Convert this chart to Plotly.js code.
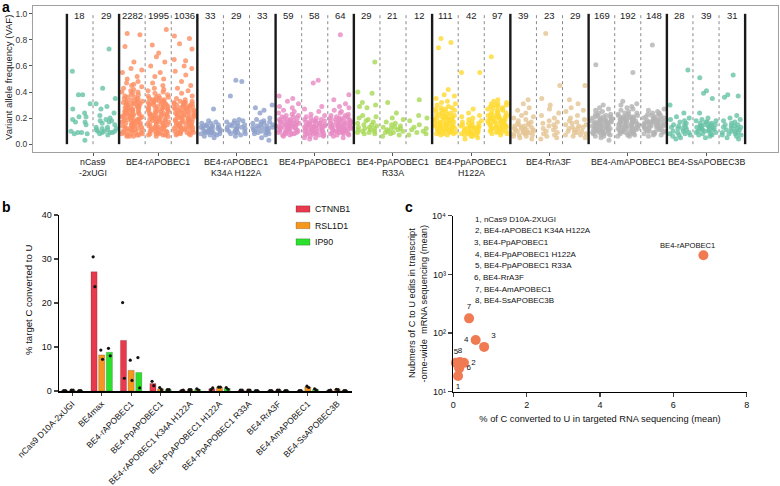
<!DOCTYPE html>
<html><head><meta charset="utf-8">
<script src="https://cdn.plot.ly/plotly-3.0.1.min.js"></script>
<style>html,body{margin:0;padding:0;background:#fff}#chart{width:780px;height:486px}</style>
</head><body><div id="chart"></div>
<script>
// ---------- Panel a data ----------
const groupLabels = ['nCas9<br>-2xUGI','BE4-rAPOBEC1','BE4-rAPOBEC1<br>K34A H122A','BE4-PpAPOBEC1','BE4-PpAPOBEC1<br>R33A','BE4-PpAPOBEC1<br>H122A','BE4-RrA3F','BE4-AmAPOBEC1','BE4-SsAPOBEC3B'];
const groupSizes = [2,3,3,3,3,3,3,3,3];
const groupColors = ['#66c2a5','#fc8d62','#8da0cb','#e78ac3','#a6d854','#ffd92f','#e5c494','#b3b3b3','#66c2a5'];
const siteCounts = [18,29,2282,1995,1036,33,29,33,59,58,64,29,21,12,111,42,97,39,23,29,169,192,148,28,39,31];

const vafNCas9r1 = [0.56,0.38,0.38,0.31,0.27,0.24,0.21,0.21,0.19,0.17,0.17,0.15,0.1,0.09,0.09,0.08,0.08,0.03];
const vafNCas9r2 = [0.73,0.43,0.35,0.31,0.29,0.27,0.24,0.22,0.2,0.19,0.18,0.18,0.17,0.16,0.15,0.13,0.13,0.12,0.12,0.11,0.11,0.1,0.1,0.1,0.09,0.09,0.09,0.08,0.07];
const vafRap1r1 = [0.85,0.84,0.75,0.63,0.58,0.57,0.55,0.52,0.5,0.48,0.47,0.46,0.45,0.44,0.43,0.42,0.41,0.4,0.4,0.39,0.38,0.38,0.37,0.36,0.36,0.35,0.35,0.34,0.34,
 0.33,0.33,0.33,0.32,0.32,0.32,0.31,0.31,0.31,0.3,0.3,0.3,0.29,0.29,0.29,0.28,0.28,0.28,0.27,0.27,0.27,0.26,0.26,0.26,0.25,0.25,0.25,0.24,0.24,0.24,0.23,0.23,0.23,0.22,0.22,0.22,0.21,0.21,0.21,0.2,0.2,0.2,0.19,0.19,0.19,0.18,0.18,0.18,0.17,0.17,0.17,0.16,0.16,0.16,0.15,0.15,0.15,0.14,0.14,0.14,0.13,0.13,0.13,0.12,0.12,0.12,0.11,0.11,0.11,0.1,0.1,0.1,0.09,0.09,0.09,0.08,0.08,0.08,0.07,0.07,0.07,0.06,0.06,0.06];
const vafRap1r2 = [0.88,0.76,0.7,0.67,0.63,0.6,0.55,0.52,0.5,0.47,0.45,0.43,0.42,0.41,0.4,0.39,0.38,0.37,0.37,0.36,0.36,
 0.35,0.35,0.34,0.34,0.34,0.33,0.33,0.33,0.32,0.32,0.32,0.31,0.31,0.31,0.3,0.3,0.3,0.29,0.29,0.29,0.28,0.28,0.28,0.27,0.27,0.27,0.26,0.26,0.26,0.25,0.25,0.25,0.24,0.24,0.24,0.23,0.23,0.23,0.22,0.22,0.22,0.21,0.21,0.21,0.2,0.2,0.2,0.19,0.19,0.19,0.18,0.18,0.18,0.17,0.17,0.17,0.16,0.16,0.16,0.15,0.15,0.15,0.14,0.14,0.14,0.13,0.13,0.13,0.12,0.12,0.12,0.11,0.11,0.11,0.1,0.1,0.1,0.09,0.09,0.09,0.08,0.08,0.08,0.07,0.07,0.07,0.06,0.06];
const vafRap1r3 = [0.83,0.81,0.77,0.73,0.65,0.64,0.6,0.58,0.56,0.53,0.48,0.45,0.43,0.41,0.39,0.37,0.35,0.34,
 0.33,0.33,0.32,0.32,0.32,0.31,0.31,0.31,0.3,0.3,0.3,0.29,0.29,0.29,0.28,0.28,0.28,0.27,0.27,0.27,0.26,0.26,0.26,0.25,0.25,0.25,0.24,0.24,0.24,0.23,0.23,0.23,0.22,0.22,0.22,0.21,0.21,0.21,0.2,0.2,0.2,0.19,0.19,0.19,0.18,0.18,0.18,0.17,0.17,0.17,0.16,0.16,0.16,0.15,0.15,0.15,0.14,0.14,0.14,0.13,0.13,0.13,0.12,0.12,0.12,0.11,0.11,0.11,0.1,0.1,0.1,0.09,0.09,0.09,0.08,0.08,0.08,0.07,0.07];
const vafK34Ar1 = [0.27,0.18,0.17,0.16,0.16,0.15,0.15,0.14,0.14,0.14,0.13,0.13,0.13,0.12,0.12,0.12,0.11,0.11,0.11,0.1,0.1,0.1,0.1,0.09,0.09,0.09,0.08,0.08,0.08,0.07,0.07,0.06,0.05];
const vafK34Ar2 = [0.49,0.48,0.37,0.19,0.18,0.18,0.17,0.16,0.16,0.15,0.15,0.14,0.14,0.13,0.13,0.12,0.12,0.12,0.11,0.11,0.1,0.1,0.1,0.09,0.09,0.08,0.08,0.07,0.06];
const vafK34Ar3 = [0.3,0.28,0.26,0.24,0.2,0.19,0.18,0.17,0.17,0.16,0.16,0.15,0.15,0.14,0.14,0.13,0.13,0.13,0.12,0.12,0.12,0.11,0.11,0.1,0.1,0.1,0.09,0.09,0.08,0.08,0.07,0.05,0.03];
const vafPpr1 = [0.37,0.35,0.33,0.31,0.29,0.28,0.26,0.25,0.24,0.23,0.22,0.22,0.21,0.21,0.2,0.2,0.19,0.19,0.19,0.18,0.18,0.18,0.17,0.17,0.17,0.16,0.16,0.16,0.15,0.15,0.15,0.15,0.14,0.14,0.14,0.14,0.13,0.13,0.13,0.12,0.12,0.12,0.12,0.11,0.11,0.11,0.1,0.1,0.1,0.1,0.09,0.09,0.09,0.08,0.08,0.08,0.07,0.07,0.06];
const vafPpr2 = [0.49,0.47,0.29,0.27,0.25,0.23,0.22,0.21,0.2,0.2,0.19,0.19,0.18,0.18,0.18,0.17,0.17,0.17,0.16,0.16,0.16,0.15,0.15,0.15,0.15,0.14,0.14,0.14,0.14,0.13,0.13,0.13,0.13,0.12,0.12,0.12,0.12,0.11,0.11,0.11,0.1,0.1,0.1,0.1,0.09,0.09,0.09,0.08,0.08,0.08,0.07,0.07,0.07,0.06,0.06,0.05,0.05,0.04];
const vafPpr3 = [0.84,0.38,0.34,0.31,0.29,0.28,0.26,0.25,0.24,0.23,0.22,0.22,0.21,0.21,0.2,0.2,0.2,0.19,0.19,0.19,0.18,0.18,0.18,0.17,0.17,0.17,0.16,0.16,0.16,0.16,0.15,0.15,0.15,0.15,0.14,0.14,0.14,0.14,0.13,0.13,0.13,0.13,0.12,0.12,0.12,0.12,0.11,0.11,0.11,0.11,0.1,0.1,0.1,0.1,0.09,0.09,0.09,0.08,0.08,0.08,0.07,0.07,0.06,0.05];
const vafR33Ar1 = [0.63,0.4,0.39,0.32,0.3,0.29,0.28,0.22,0.21,0.2,0.19,0.18,0.17,0.16,0.15,0.15,0.14,0.13,0.13,0.12,0.12,0.11,0.11,0.1,0.1,0.09,0.09,0.08,0.08];
const vafR33Ar2 = [0.32,0.24,0.2,0.19,0.17,0.16,0.15,0.14,0.13,0.13,0.12,0.12,0.11,0.11,0.1,0.1,0.09,0.09,0.08,0.07,0.06];
const vafR33Ar3 = [0.34,0.22,0.2,0.18,0.15,0.13,0.12,0.11,0.1,0.09,0.08,0.07];
const vafH122Ar1 = [0.81,0.78,0.74,0.42,0.38,0.37,0.35,0.33,0.32,0.31,0.3,0.29,0.28,0.28,0.27,0.27,0.26,0.26,0.25,0.25,0.24,0.24,0.23,0.23,0.22,0.22,0.22,0.21,0.21,0.21,0.2,0.2,0.2,0.19,0.19,0.19,0.18,0.18,0.18,0.17,0.17,0.17,0.16,0.16,0.16,0.15,0.15,0.15,0.15,0.14,0.14,0.14,0.14,0.13,0.13,0.13,0.13,0.12,0.12,0.12,0.12,0.11,0.11,0.11,0.11,0.1,0.1,0.1,0.1,0.09,0.09,0.09,0.08,0.08,0.08,0.07,0.07];
const vafH122Ar2 = [0.55,0.55,0.27,0.24,0.22,0.21,0.2,0.19,0.18,0.17,0.17,0.16,0.16,0.15,0.15,0.14,0.14,0.14,0.13,0.13,0.13,0.12,0.12,0.12,0.11,0.11,0.11,0.1,0.1,0.1,0.09,0.09,0.09,0.08,0.08,0.08,0.07,0.07,0.06,0.06,0.05,0.04];
const vafH122Ar3 = [0.67,0.34,0.33,0.32,0.31,0.31,0.3,0.3,0.29,0.29,0.28,0.28,0.27,0.27,0.26,0.26,0.25,0.25,0.24,0.24,0.23,0.23,0.22,0.22,0.22,0.21,0.21,0.21,0.2,0.2,0.2,0.19,0.19,0.19,0.18,0.18,0.18,0.17,0.17,0.17,0.16,0.16,0.16,0.15,0.15,0.15,0.14,0.14,0.14,0.13,0.13,0.13,0.12,0.12,0.12,0.11,0.11,0.11,0.1,0.1,0.1,0.09,0.09,0.08,0.08,0.07];
const vafRrA3Fr1 = [0.34,0.31,0.28,0.26,0.24,0.22,0.21,0.2,0.19,0.18,0.17,0.16,0.16,0.15,0.15,0.14,0.14,0.13,0.13,0.12,0.12,0.12,0.11,0.11,0.11,0.1,0.1,0.1,0.09,0.09,0.09,0.08,0.08,0.07,0.07,0.06,0.06,0.05,0.04];
const vafRrA3Fr2 = [0.85,0.45,0.35,0.3,0.27,0.24,0.22,0.2,0.18,0.17,0.16,0.15,0.14,0.13,0.12,0.11,0.1,0.09,0.08,0.07,0.06,0.05,0.04];
const vafRrA3Fr3 = [0.45,0.34,0.31,0.28,0.26,0.25,0.22,0.2,0.19,0.18,0.17,0.16,0.15,0.15,0.14,0.13,0.13,0.12,0.12,0.11,0.1,0.1,0.09,0.09,0.08,0.07,0.07,0.06,0.05];
const vafAmr1 = [0.61,0.3,0.28,0.27,0.26,0.25,0.24,0.23,0.23,0.22,0.22,0.21,0.21,0.21,0.2,0.2,0.2,0.19,0.19,0.19,0.18,0.18,0.18,0.18,0.17,0.17,0.17,0.17,0.16,0.16,0.16,0.16,0.15,0.15,0.15,0.15,0.14,0.14,0.14,0.14,0.13,0.13,0.13,0.13,0.12,0.12,0.12,0.12,0.11,0.11,0.11,0.11,0.1,0.1,0.1,0.1,0.09,0.09,0.09,0.08,0.08,0.08,0.07,0.07,0.06,0.06,0.05,0.03];
const vafAmr2 = [0.55,0.33,0.31,0.3,0.29,0.28,0.27,0.26,0.25,0.24,0.24,0.23,0.23,0.22,0.22,0.22,0.21,0.21,0.21,0.2,0.2,0.2,0.2,0.19,0.19,0.19,0.19,0.18,0.18,0.18,0.18,0.17,0.17,0.17,0.17,0.16,0.16,0.16,0.16,0.15,0.15,0.15,0.15,0.14,0.14,0.14,0.14,0.13,0.13,0.13,0.13,0.12,0.12,0.12,0.12,0.11,0.11,0.11,0.11,0.1,0.1,0.1,0.1,0.09,0.09,0.09,0.08,0.08,0.08,0.07,0.07,0.06,0.06];
const vafAmr3 = [0.76,0.27,0.26,0.25,0.24,0.24,0.23,0.23,0.22,0.22,0.21,0.21,0.2,0.2,0.2,0.19,0.19,0.19,0.18,0.18,0.18,0.17,0.17,0.17,0.17,0.16,0.16,0.16,0.16,0.15,0.15,0.15,0.15,0.14,0.14,0.14,0.14,0.13,0.13,0.13,0.13,0.12,0.12,0.12,0.12,0.11,0.11,0.11,0.1,0.1,0.1,0.09,0.09,0.09,0.08,0.08,0.07,0.07,0.06];
const vafSsr1 = [0.57,0.3,0.24,0.21,0.2,0.19,0.18,0.17,0.16,0.15,0.15,0.14,0.13,0.13,0.12,0.12,0.11,0.1,0.1,0.09,0.09,0.08,0.08,0.07,0.07,0.06,0.05,0.04];
const vafSsr2 = [0.51,0.41,0.39,0.35,0.24,0.2,0.19,0.18,0.18,0.17,0.17,0.16,0.16,0.15,0.15,0.15,0.14,0.14,0.14,0.13,0.13,0.13,0.12,0.12,0.12,0.11,0.11,0.11,0.1,0.1,0.1,0.09,0.09,0.08,0.08,0.07,0.07,0.06,0.05];
const vafSsr3 = [0.53,0.38,0.37,0.36,0.22,0.2,0.19,0.18,0.17,0.16,0.15,0.15,0.14,0.14,0.13,0.13,0.12,0.12,0.11,0.11,0.1,0.1,0.09,0.09,0.08,0.08,0.07,0.07,0.06,0.05,0.04];

const vafColumns = [vafNCas9r1,vafNCas9r2,vafRap1r1,vafRap1r2,vafRap1r3,vafK34Ar1,vafK34Ar2,vafK34Ar3,vafPpr1,vafPpr2,vafPpr3,vafR33Ar1,vafR33Ar2,vafR33Ar3,vafH122Ar1,vafH122Ar2,vafH122Ar3,vafRrA3Fr1,vafRrA3Fr2,vafRrA3Fr3,vafAmr1,vafAmr2,vafAmr3,vafSsr1,vafSsr2,vafSsr3];

// ---------- Panel b data ----------
const bCategories = ['nCas9 D10A-2xUGI','BE4max','BE4-rAPOBEC1','BE4-PpAPOBEC1','BE4-rAPOBEC1 K34A H122A','BE4-PpAPOBEC1 H122A','BE4-PpAPOBEC1 R33A','BE4-RrA3F','BE4-AmAPOBEC1','BE4-SsAPOBEC3B'];
const bSeries = ['CTNNB1','RSL1D1','IP90'];
const bColors = ['#e8394d','#f5961e','#2ee02e'];
const ctnnb1Mean = [0.1,27.1,11.5,1.7,0.15,0.5,0.2,0.1,0.1,0.15];
const rsl1d1Mean = [0.2,8.2,4.7,0.5,0.3,0.9,0.2,0.2,0.9,0.35];
const ip90Mean   = [0.1,8.8,4.2,0.3,0.35,0.6,0.1,0.1,0.35,0.1];
const ctnnb1RepA = [0.1,30.5,20.1,2.2,0.1,0.3,0.2,0.1,0.1,0.1];
const ctnnb1RepB = [0.1,23.7,2.9,1.2,0.2,0.7,0.2,0.1,0.1,0.2];
const rsl1d1RepA = [0.2,9.3,7.0,0.8,0.3,0.9,0.2,0.2,1.1,0.4];
const rsl1d1RepB = [0.2,7.2,2.4,0.3,0.3,0.9,0.2,0.2,0.8,0.3];
const ip90RepA   = [0.1,9.7,7.6,0.3,0.5,0.8,0.1,0.1,0.5,0.1];
const ip90RepB   = [0.1,8.0,0.7,0.3,0.2,0.4,0.1,0.1,0.2,0.1];

// ---------- Panel c data ----------
const cLabels = ['1','2','3','4','5','6','7','8','BE4-rAPOBEC1'];
const cTargetedPct = [0.13,0.29,0.84,0.61,0.07,0.16,0.43,0.18,6.82];
const cTranscriptomeEdits = [18.5,31,58,76,31,25,178,32,2115];
const cKey = ['1, nCas9 D10A-2XUGI','2, BE4-rAPOBEC1 K34A H122A','3, BE4-PpAPOBEC1','4, BE4-PpAPOBEC1 H122A','5, BE4-PpAPOBEC1 R33A','6, BE4-RrA3F','7, BE4-AmAPOBEC1','8, BE4-SsAPOBEC3B'];

// ---------- build ----------
const W = 780, H = 486;
const px = x => x / W, py = y => 1 - y / H;
const FONT = 'Liberation Sans, Arial, Helvetica, sans-serif';
const traces = [], shapes = [], annotations = [];
const note = (o) => annotations.push(Object.assign({showarrow: false}, o));

// deterministic horizontal jitter inside a column (position only, stratified)
function jit(i, j) {
  let h = Math.imul(i + 17, 374761393) ^ Math.imul(j + 3, 668265263);
  h = Math.imul(h ^ (h >>> 13), 1274126177);
  h = h ^ (h >>> 16);
  const r = ((h >>> 0) % 10007) / 10007;
  const strata = 4, perm = [0, 2, 1, 3];
  return (perm[(i + j) % strata] + r) / strata;
}

// panel a
const colGroup = [];
groupSizes.forEach((s, g) => { for (let k = 0; k < s; k++) colGroup.push(g); });
const bounds = [0];
groupSizes.forEach(s => bounds.push(bounds[bounds.length - 1] + s));
const groupCenters = groupSizes.map((s, g) => bounds[g] + s / 2);
vafColumns.forEach((vals, j) => {
  const xs = vals.map((v, i) => j + 0.5 + (jit(i, j) - 0.5) * 0.8);
  traces.push({type: 'scatter', mode: 'markers', x: xs, y: vals, xaxis: 'x', yaxis: 'y',
    marker: {size: 5, color: groupColors[colGroup[j]], opacity: 0.8},
    hoverinfo: 'skip', showlegend: false, cliponaxis: false});
  note({x: j + 0.5, y: 0.985, xref: 'x', yref: 'y', text: String(siteCounts[j]),
    font: {size: 9.5, color: '#222'}, xanchor: 'center', yanchor: 'middle'});
});
const nCols = bounds[bounds.length - 1];
for (let b = 0; b <= nCols; b++) {
  const thick = bounds.includes(b);
  shapes.push({type: 'line', xref: 'x', yref: 'y', x0: b, x1: b, y0: 0, y1: 1.0,
    line: thick ? {color: '#1a1a1a', width: 2.4} : {color: '#8a8a8a', width: 1, dash: 'dot'}});
}
groupLabels.forEach((lab, g) => {
  lab.split('<br>').forEach((line, li) => {
    note({x: groupCenters[g], y: py(162 + li * 11), xref: 'x', yref: 'paper', text: line,
      xanchor: 'center', yanchor: 'middle', font: {size: 8.8, color: '#222'}});
  });
});
note({xref: 'paper', yref: 'paper', x: px(8), y: py(78), xanchor: 'center', yanchor: 'middle',
  text: 'Variant allele frequency (VAF)', textangle: -90, font: {size: 9.5, color: '#222'}});

// panel b
const bX = bCategories.map((_, i) => i);
const bMeans = [ctnnb1Mean, rsl1d1Mean, ip90Mean];
const bRepA = [ctnnb1RepA, rsl1d1RepA, ip90RepA];
const bRepB = [ctnnb1RepB, rsl1d1RepB, ip90RepB];
const slot = 0.26;
bSeries.forEach((name, k) => {
  traces.push({type: 'bar', name, x: bX, y: bMeans[k], xaxis: 'x2', yaxis: 'y2', offsetgroup: String(k),
    marker: {color: bColors[k], line: {color: 'rgba(0,0,0,0.35)', width: 0.5}}, showlegend: false, hoverinfo: 'skip'});
});
bSeries.forEach((name, k) => {
  const off = (k - 1) * slot;
  traces.push({type: 'scatter', mode: 'markers', x: bX.map(i => i + off - 0.03).concat(bX.map(i => i + off + 0.03)),
    y: bRepA[k].concat(bRepB[k]), xaxis: 'x2', yaxis: 'y2', marker: {size: 3.2, color: '#111'},
    showlegend: false, hoverinfo: 'skip', cliponaxis: false});
});
bSeries.forEach((name, k) => {
  const yc = 209 + k * 16.5;
  shapes.push({type: 'rect', xref: 'paper', yref: 'paper', x0: px(296), x1: px(310), y0: py(yc + 3.2), y1: py(yc - 3.2),
    fillcolor: bColors[k], line: {color: 'rgba(0,0,0,0.4)', width: 0.5}});
  note({xref: 'paper', yref: 'paper', x: px(312.5), y: py(yc), xanchor: 'left', yanchor: 'middle',
    text: name, font: {size: 8.8, color: '#111'}});
});
note({xref: 'paper', yref: 'paper', x: px(28), y: py(300), xanchor: 'center', yanchor: 'middle',
  text: '% target C converted to U', textangle: -90, font: {size: 9.6, color: '#111'}});

// panel c
const cTextPos = ['bottom center','middle right','top right','middle left','top center','middle right','top center','top center'];
traces.push({type: 'scatter', mode: 'markers+text', x: cTargetedPct.slice(0, 8), y: cTranscriptomeEdits.slice(0, 8), xaxis: 'x3', yaxis: 'y3',
  text: cLabels.slice(0, 8), textposition: cTextPos, textfont: {size: 8, color: '#111'},
  marker: {size: 10, color: '#f07a52'}, showlegend: false, hoverinfo: 'skip', cliponaxis: false});
traces.push({type: 'scatter', mode: 'markers', x: cTargetedPct.slice(8), y: cTranscriptomeEdits.slice(8), xaxis: 'x3', yaxis: 'y3',
  marker: {size: 10, color: '#f07a52'}, showlegend: false, hoverinfo: 'skip', cliponaxis: false});
note({x: cTargetedPct[8], y: Math.log10(cTranscriptomeEdits[8]), xref: 'x3', yref: 'y3', text: cLabels[8],
  xanchor: 'center', yanchor: 'middle', xshift: -16, yshift: 10, font: {size: 7.6, color: '#111'}});
cKey.forEach((t, i) => {
  note({xref: 'paper', yref: 'paper', x: px(472.5), y: py(219 + i * 11.7), xanchor: 'left', yanchor: 'middle',
    text: t, font: {size: 8, color: '#111'}});
});
note({xref: 'paper', yref: 'paper', x: px(412), y: py(303), xanchor: 'center', yanchor: 'middle',
  text: 'Nubmers of C to U edits in transcript', textangle: -90, font: {size: 9.3, color: '#111'}});
note({xref: 'paper', yref: 'paper', x: px(423.5), y: py(303), xanchor: 'center', yanchor: 'middle',
  text: '-ome-wide  mRNA sequencing (mean)', textangle: -90, font: {size: 9.3, color: '#111'}});

// panel letters
note({xref: 'paper', yref: 'paper', x: px(0), y: py(-3), xanchor: 'left', yanchor: 'top', text: '<b>a</b>', font: {size: 14, color: '#000'}});
note({xref: 'paper', yref: 'paper', x: px(0), y: py(197), xanchor: 'left', yanchor: 'top', text: '<b>b</b>', font: {size: 14, color: '#000'}});
note({xref: 'paper', yref: 'paper', x: px(403), y: py(197), xanchor: 'left', yanchor: 'top', text: '<b>c</b>', font: {size: 14, color: '#000'}});

const layout = {
  width: W, height: H, margin: {l: 0, r: 0, t: 0, b: 0}, paper_bgcolor: '#fff', plot_bgcolor: 'rgba(0,0,0,0)',
  font: {family: FONT, color: '#111'}, showlegend: false,
  barmode: 'group', bargap: 0.22, bargroupgap: 0.2,
  xaxis: {domain: [px(33), px(778)], range: [-1.3, 27.26], anchor: 'y', showline: true, mirror: true,
    linecolor: '#a0a0a0', linewidth: 1, ticks: 'outside', ticklen: 3, tickcolor: '#555',
    tickvals: groupCenters, showticklabels: false,
    showgrid: false, zeroline: false, automargin: false},
  yaxis: {domain: [py(152), py(6)], range: [-0.06, 1.06], anchor: 'x', showline: true, mirror: true,
    linecolor: '#a0a0a0', linewidth: 1, ticks: 'outside', ticklen: 3, tickcolor: '#555',
    tickvals: [0, 0.2, 0.4, 0.6, 0.8, 1.0], tickformat: '.1f', tickfont: {size: 8.5, color: '#333'},
    showgrid: false, zeroline: false, automargin: false},
  xaxis2: {domain: [px(59), px(352)], range: [-0.45, 9.5], anchor: 'y2', showline: true, linecolor: '#000', linewidth: 1.5,
    ticks: 'outside', ticklen: 3, tickwidth: 1, tickvals: bX, ticktext: bCategories, tickangle: -45,
    tickfont: {size: 8.6, color: '#111'}, showgrid: false, zeroline: false, automargin: false},
  yaxis2: {domain: [py(391), py(215)], range: [0, 40], anchor: 'x2', showline: true, linecolor: '#000', linewidth: 1.5,
    ticks: 'outside', ticklen: 4, tickwidth: 1.3, dtick: 10, tickfont: {size: 9, color: '#111'},
    showgrid: false, zeroline: false, automargin: false},
  xaxis3: {domain: [px(453.3), px(746.7)], range: [0, 8], dtick: 2, anchor: 'y3', showline: true, linecolor: '#000', linewidth: 1.5,
    ticks: 'outside', ticklen: 4, tickwidth: 1.3, tickfont: {size: 9, color: '#111'}, showgrid: false, zeroline: false, automargin: false,
    title: {text: '% of C converted to U in targeted RNA sequencing (mean)', font: {size: 9.3, color: '#111'}, standoff: 6}},
  yaxis3: {type: 'log', domain: [py(391.7), py(215.7)], range: [1, 4], anchor: 'x3', showline: true, linecolor: '#000', linewidth: 1.5,
    ticks: 'outside', ticklen: 4, tickwidth: 1.3, tickvals: [10, 100, 1000, 10000],
    ticktext: ['10\u00B9', '10\u00B2', '10\u00B3', '10\u2074'], tickfont: {size: 9, color: '#111'},
    showgrid: false, zeroline: false, automargin: false},
  shapes, annotations
};
Plotly.newPlot('chart', traces, layout, {staticPlot: true, displayModeBar: false});
</script></body></html>
